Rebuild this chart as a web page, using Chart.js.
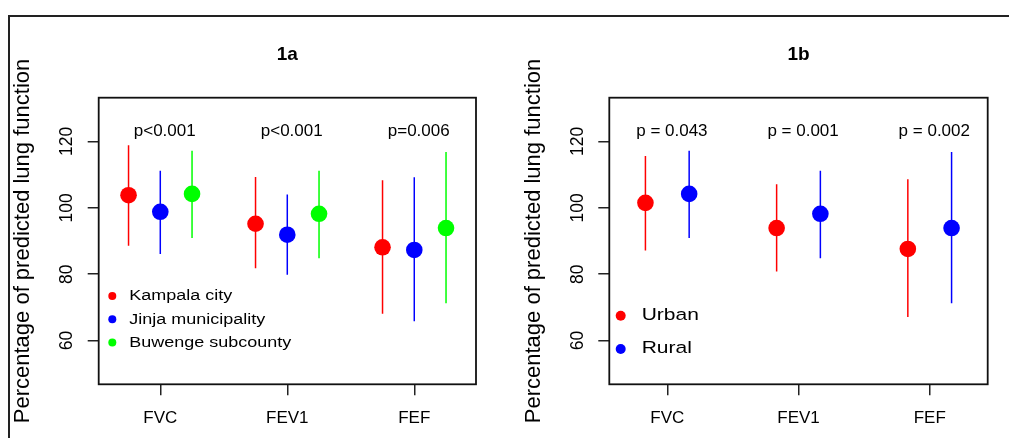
<!DOCTYPE html>
<html lang="en">
<head>
<meta charset="utf-8">
<title>Percentage of predicted lung function</title>
<script src="https://cdn.jsdelivr.net/npm/chart.js@4.4.1/dist/chart.umd.min.js"></script>
<style>
  body { margin: 0; background: #fff; }
  #page { position: relative; width: 1009px; height: 438px; overflow: hidden; }
  #frame { position: absolute; left: 8px; top: 15px; width: 1100px; height: 500px;
           border-left: 2px solid #222; border-top: 2px solid #222; }
  canvas { position: absolute; top: 0; }
</style>
</head>
<body>
<div id="page">
  <div id="frame"></div>
  <canvas id="chart1a" width="505" height="438" style="left:0"></canvas>
  <canvas id="chart1b" width="504" height="438" style="left:505px"></canvas>
</div>

<script type="text/javascript">

    const measures = ["FVC", "FEV1", "FEF"];
    const yTicks = [60, 80, 100, 120];

    // 1a: by study site
    const sites = ["Kampala city", "Jinja municipality", "Buwenge subcounty"];
    const kampalaMean = [103.8, 95.2, 88.1];
    const kampalaLow = [88.6, 81.8, 68.1];
    const kampalaHigh = [118.9, 109.3, 108.3];
    const jinjaMean = [98.8, 91.9, 87.3];
    const jinjaLow = [86.1, 79.8, 65.8];
    const jinjaHigh = [111.2, 104.0, 109.2];
    const buwengeMean = [104.2, 98.2, 93.9];
    const buwengeLow = [90.9, 84.8, 71.2];
    const buwengeHigh = [117.2, 111.2, 116.8];
    const pValues1a = ["p<0.001", "p<0.001", "p=0.006"];

    // 1b: urban vs rural
    const settings = ["Urban", "Rural"];
    const urbanMean = [101.5, 93.9, 87.6];
    const urbanLow = [87.1, 80.8, 67.1];
    const urbanHigh = [115.6, 107.1, 108.6];
    const ruralMean = [104.2, 98.2, 93.9];
    const ruralLow = [90.9, 84.8, 71.2];
    const ruralHigh = [117.2, 111.2, 116.8];
    const pValues1b = ["p = 0.043", "p = 0.001", "p = 0.002"];

    const RED = "#ff0000", BLUE = "#0000ff", GREEN = "#00ff00";
    const FONT = '"Liberation Sans", Arial, sans-serif';

    Chart.defaults.font.family = FONT;
    Chart.defaults.color = "#000";

    function pointData(offset, mean) {
        return mean.map((v, i) => ({x: i + 1 + offset, y: v}));
    }

    // low/high pairs separated by a null so each whisker is its own segment
    function whiskerData(offset, low, high) {
        const pts = [];
        for (let i = 0; i < low.length; i++) {
            const x = i + 1 + offset;
            pts.push({x: x, y: low[i]}, {x: x, y: high[i]}, {x: x, y: null});
        }
        return pts;
    }

    function group(offset, mean, low, high, color) {
        return [
            {data: pointData(offset, mean), pointRadius: 8.3, pointBackgroundColor: color,
             pointBorderWidth: 0, order: 0},
            {data: whiskerData(offset, low, high), showLine: true, spanGaps: false,
             borderColor: color, borderWidth: 1.5, pointRadius: 0, order: 1}
        ];
    }

    function extrasPlugin(p) {
        return {
            id: "panelExtras",
            afterDraw(chart) {
                const ctx = chart.ctx;
                const area = chart.chartArea;
                const xs = chart.scales.x, ys = chart.scales.y;
                ctx.save();

                ctx.strokeStyle = "#111";
                ctx.lineWidth = 1.8;
                ctx.strokeRect(area.left, area.top, area.right - area.left, area.bottom - area.top);

                ctx.fillStyle = "#000";
                ctx.textAlign = "center";
                ctx.textBaseline = "middle";
                ctx.font = "bold 19px " + FONT;
                ctx.fillText(p.title, (area.left + area.right) / 2, 55);

                ctx.font = "17px " + FONT;
                p.pValues.forEach((t, i) => {
                    ctx.fillText(t, xs.getPixelForValue(i + 1 + 0.035), ys.getPixelForValue(123));
                });

                ctx.textAlign = "left";
                ctx.font = p.legendFont + "px " + FONT;
                p.legend.forEach((item, i) => {
                    const y = p.legendRows[i];
                    ctx.fillStyle = item.color;
                    ctx.beginPath();
                    ctx.arc(area.left + p.legendDotX, y, p.legendDotR, 0, Math.PI * 2);
                    ctx.fill();
                    ctx.fillStyle = "#000";
                    ctx.save();
                    ctx.translate(area.left + p.legendTextX, y);
                    ctx.scale(p.legendStretch, 1);
                    ctx.fillText(item.label, 0, 0);
                    ctx.restore();
                });
                ctx.restore();
            }
        };
    }

    function makePanel(canvasId, p) {
        const tickGrid = {drawOnChartArea: false, drawTicks: true, tickLength: 11, color: "#222", lineWidth: 1.5};
        new Chart(document.getElementById(canvasId), {
            type: "scatter",
            data: {datasets: p.datasets},
            options: {
                responsive: false,
                animation: false,
                layout: {padding: {left: p.padLeft, top: 97.7, right: p.padRight, bottom: 0}},
                plugins: {legend: {display: false}, tooltip: {enabled: false}},
                scales: {
                    x: {
                        type: "linear", position: "bottom", min: p.xMin, max: p.xMax,
                        border: {display: false},
                        grid: tickGrid,
                        afterBuildTicks: s => { s.ticks = measures.map((m, i) => ({value: i + 1})); },
                        afterFit: s => { s.height = 53.7; },
                        ticks: {autoSkip: false, maxRotation: 0, padding: 12.6, font: {size: 17},
                                callback: v => measures[v - 1] || ""}
                    },
                    y: {
                        type: "linear", min: 46.8, max: 133.2,
                        border: {display: false},
                        grid: tickGrid,
                        afterBuildTicks: s => { s.ticks = yTicks.map(v => ({value: v})); },
                        afterFit: s => { s.width = p.yWidth; },
                        ticks: {minRotation: 90, maxRotation: 90, crossAlign: "center", padding: 5.6,
                                font: {size: 17.5}},
                        title: {display: true, text: "Percentage of predicted lung function",
                                font: {size: 22}, padding: {top: 10.2, bottom: 0}}
                    }
                }
            },
            plugins: [extrasPlugin(p)]
        });
    }

    makePanel("chart1a", {
        title: "1a",
        datasets: [].concat(
            group(-0.25, kampalaMean, kampalaLow, kampalaHigh, RED),
            group(0, jinjaMean, jinjaLow, jinjaHigh, BLUE),
            group(0.25, buwengeMean, buwengeLow, buwengeHigh, GREEN)
        ),
        pValues: pValues1a,
        legend: sites.map((s, i) => ({label: s, color: [RED, BLUE, GREEN][i]})),
        legendRows: [296, 319.3, 342.5],
        legendDotX: 13.6, legendDotR: 4, legendTextX: 30.6,
        legendFont: 15.5, legendStretch: 1.16,
        padLeft: 0, yWidth: 98.7, padRight: 29,
        xMin: 0.515, xMax: 3.486
    });

    makePanel("chart1b", {
        title: "1b",
        datasets: [].concat(
            group(-1 / 6, urbanMean, urbanLow, urbanHigh, RED),
            group(1 / 6, ruralMean, ruralLow, ruralHigh, BLUE)
        ),
        pValues: pValues1b,
        legend: settings.map((s, i) => ({label: s, color: [RED, BLUE][i]})),
        legendRows: [315.8, 349],
        legendDotX: 11.4, legendDotR: 5, legendTextX: 32.4,
        legendFont: 16.3, legendStretch: 1.29,
        padLeft: 5.7, yWidth: 98.6, padRight: 21.3,
        xMin: 0.558, xMax: 3.442
    });

</script>
</body>
</html>
